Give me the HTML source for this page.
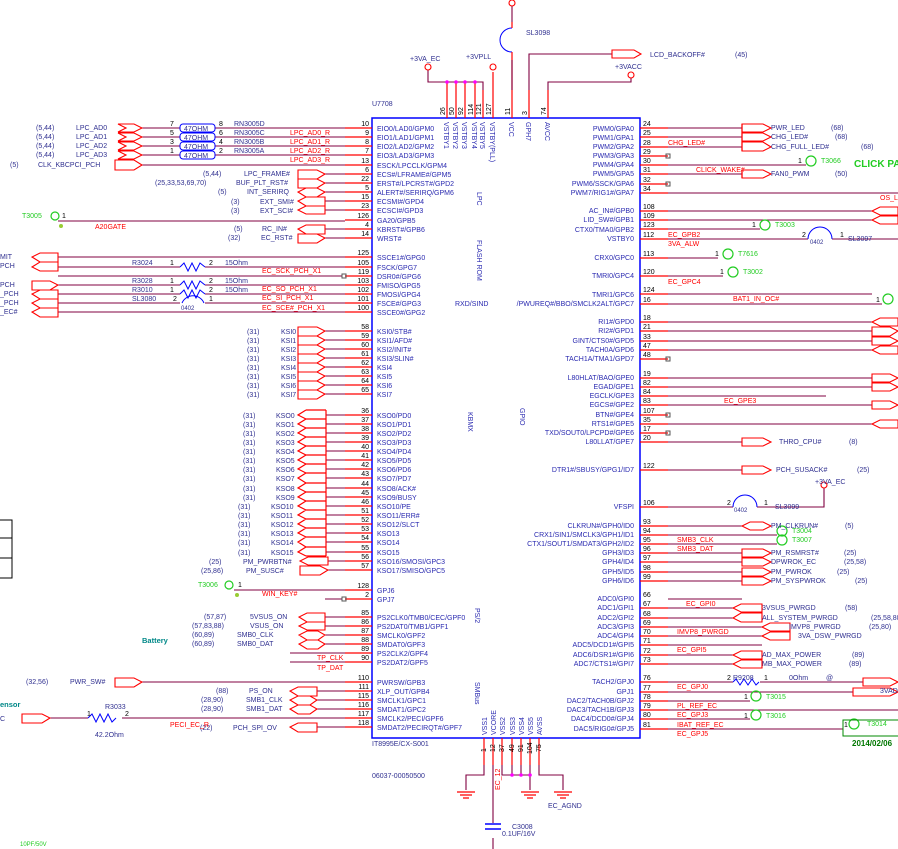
<!DOCTYPE html>
<html><head><meta charset="utf-8"><style>
body{margin:0;background:#fff}
svg{display:block;font-family:"Liberation Sans",sans-serif}
.r{stroke:#f00;stroke-width:1.2;fill:none}
.m{stroke:#800040;stroke-width:1.1;fill:none}
.b{stroke:#00f;fill:none}
.f{stroke:#f00;stroke-width:1.1;fill:#fff}
.pn{font-size:7px;fill:#000}
.pl{font-size:7px;fill:#2a2ab0}
.nl{font-size:7px;fill:#303090}
.rl{font-size:7px;fill:#f00}
.gl{font-size:7px;fill:#2c2}
.tc{stroke:#2c2;fill:none;stroke-width:1.2}
</style></head><body>
<svg width="898" height="849" viewBox="0 0 898 849" xmlns="http://www.w3.org/2000/svg">
<!-- chip -->
<rect x="372" y="118" width="268" height="620" fill="none" stroke="#00f" stroke-width="1.5"/>
<text x="372" y="106" class="nl">U7708</text>
<text x="372" y="746" class="nl">IT8995E/CX-S001</text>
<text x="372" y="778" class="nl">06037-00050500</text>
<text class="pl" transform="translate(477,192) rotate(90)" font-size="8">LPC</text>
<text class="pl" transform="translate(477,240) rotate(90)" font-size="8">FLASH ROM</text>
<text x="455" y="306" class="pl" font-size="6">RXD/SIND</text>
<text class="pl" transform="translate(468,412) rotate(90)">KBMX</text>
<text class="pl" transform="translate(520,408) rotate(90)">GPIO</text>
<text class="pl" transform="translate(475,608) rotate(90)">PS/2</text>
<text class="pl" transform="translate(475,682) rotate(90)">SMBus</text>

<!-- top pins -->
<g class="r"><line x1="447" y1="82" x2="447" y2="118"/><line x1="456" y1="82" x2="456" y2="118"/><line x1="465" y1="82" x2="465" y2="118"/><line x1="475" y1="82" x2="475" y2="118"/><line x1="483" y1="90" x2="483" y2="118"/><line x1="493" y1="72" x2="493" y2="118"/><line x1="512" y1="60" x2="512" y2="118"/><line x1="529" y1="90" x2="529" y2="118"/><line x1="548" y1="90" x2="548" y2="118"/></g>
<path class="m" d="M428,70 V82 H483 V90 M512,0 V22 M512,60 V90 M529,90 V54 H612 M548,90 V82 H631 V78"/>
<g fill="#f0f"><circle cx="447" cy="82" r="1.8"/><circle cx="456" cy="82" r="1.8"/><circle cx="465" cy="82" r="1.8"/><circle cx="475" cy="82" r="1.8"/></g>
<circle cx="428" cy="67" r="3" class="f"/><circle cx="493" cy="67" r="3" class="f"/><circle cx="512" cy="3" r="3" class="f"/><circle cx="631" cy="75" r="3" class="f"/>
<path d="M512,28 A12,12 0 0 0 512,52" class="b"/><line x1="512" y1="22" x2="512" y2="28" class="r"/><line x1="512" y1="52" x2="512" y2="60" class="r"/>
<text x="526" y="35" class="nl">SL3098</text>
<text x="410" y="61" class="nl">+3VA_EC</text><text x="466" y="59" class="nl">+3VPLL</text><text x="615" y="69" class="nl">+3VACC</text>
<polygon class="f" points="612,50 634,50 641,54 634,58 612,58"/>
<text x="650" y="57" class="nl">LCD_BACKOFF#</text><text x="735" y="57" class="nl">(45)</text>
<g class="pn"><text transform="translate(445,115) rotate(-90)">26</text><text transform="translate(454,115) rotate(-90)">50</text><text transform="translate(463,115) rotate(-90)">92</text><text transform="translate(473,115) rotate(-90)">114</text><text transform="translate(481,115) rotate(-90)">121</text><text transform="translate(491,115) rotate(-90)">127</text><text transform="translate(510,115) rotate(-90)">11</text><text transform="translate(527,115) rotate(-90)">3</text><text transform="translate(546,115) rotate(-90)">74</text></g>
<g class="pl" font-size="6"><text transform="translate(444,122) rotate(90)">VSTBY1</text><text transform="translate(453,122) rotate(90)">VSTBY2</text><text transform="translate(462,122) rotate(90)">VSTBY3</text><text transform="translate(472,122) rotate(90)">VSTBY4</text><text transform="translate(480,122) rotate(90)">VSTBY5</text><text transform="translate(490,122) rotate(90)">VSTBY(PLL)</text><text transform="translate(509,122) rotate(90)">VCC</text><text transform="translate(526,122) rotate(90)">GPH7</text><text transform="translate(545,122) rotate(90)">AVCC</text></g>

<!-- bottom pins -->
<g class="r"><line x1="484" y1="738" x2="484" y2="765"/><line x1="493" y1="738" x2="493" y2="765"/><line x1="502" y1="738" x2="502" y2="765"/><line x1="512" y1="738" x2="512" y2="765"/><line x1="521" y1="738" x2="521" y2="765"/><line x1="530" y1="738" x2="530" y2="765"/><line x1="539" y1="738" x2="539" y2="765"/></g>
<path class="m" d="M484,765 V775 H466 V790 M493,765 V823 M493,838 V849 M502,765 V775 H530 M512,765 V775 M521,765 V775 M530,765 V790 M539,765 V775 H563 V790"/>
<g fill="#f0f"><circle cx="512" cy="775" r="1.8"/><circle cx="521" cy="775" r="1.8"/><circle cx="530" cy="775" r="1.8"/></g>
<g class="r"><path d="M457,792 H475 M460,795 H472 M463,798 H469 M521,792 H539 M524,795 H536 M527,798 H533 M554,792 H572 M557,795 H569 M560,798 H566"/></g>
<g class="b" stroke-width="1.5"><line x1="485" y1="824" x2="501" y2="824"/><line x1="485" y1="829" x2="501" y2="829"/></g>
<text x="512" y="829" class="nl">C3008</text><text x="502" y="836" class="nl">0.1UF/16V</text>
<text x="548" y="808" class="nl">EC_AGND</text>
<text class="rl" transform="translate(500,790) rotate(-90)">EC_12</text>
<g class="pn"><text transform="translate(486,752) rotate(-90)">1</text><text transform="translate(495,752) rotate(-90)">12</text><text transform="translate(504,752) rotate(-90)">37</text><text transform="translate(514,752) rotate(-90)">49</text><text transform="translate(523,752) rotate(-90)">91</text><text transform="translate(532,754) rotate(-90)">104</text><text transform="translate(541,752) rotate(-90)">75</text></g>
<g class="pl" font-size="6"><text transform="translate(487,735) rotate(-90)">VSS1</text><text transform="translate(496,735) rotate(-90)">VCORE</text><text transform="translate(505,735) rotate(-90)">VSS2</text><text transform="translate(515,735) rotate(-90)">VSS3</text><text transform="translate(524,735) rotate(-90)">VSS4</text><text transform="translate(533,735) rotate(-90)">VSS5</text><text transform="translate(542,735) rotate(-90)">AVSS</text></g>

<!-- left pins: red stubs -->
<g class="r">
<path d="M345,128H372M345,137H372M345,146H372M345,155H372M345,165H372M345,174H372M345,183H372M345,192H372M345,201H372M345,210H372M345,220H372M345,229H372M345,238H372M345,257H372M345,267H372M345,276H372M345,285H372M345,294H372M345,303H372M345,312H372M345,331H372M345,340H372M345,349H372M345,358H372M345,367H372M345,376H372M345,385H372M345,394H372M345,415H372M345,424H372M345,433H372M345,442H372M345,451H372M345,460H372M345,469H372M345,478H372M345,488H372M345,497H372M345,506H372M345,515H372M345,524H372M345,533H372M345,542H372M345,552H372M345,561H372M345,570H372M345,590H372M345,599H372M345,617H372M345,626H372M345,635H372M345,644H372M345,653H372M345,662H372M345,682H372M345,691H372M345,700H372M345,709H372M345,718H372M345,727H372"/>
</g>
<g class="pn" text-anchor="end">
<text x="369" y="126">10</text><text x="369" y="135">9</text><text x="369" y="144">8</text><text x="369" y="153">7</text><text x="369" y="163">13</text><text x="369" y="172">6</text><text x="369" y="181">22</text><text x="369" y="190">5</text><text x="369" y="199">15</text><text x="369" y="208">23</text><text x="369" y="218">126</text><text x="369" y="227">4</text><text x="369" y="236">14</text><text x="369" y="255">125</text><text x="369" y="265">105</text><text x="369" y="274">119</text><text x="369" y="283">103</text><text x="369" y="292">102</text><text x="369" y="301">101</text><text x="369" y="310">100</text>
<text x="369" y="329">58</text><text x="369" y="338">59</text><text x="369" y="347">60</text><text x="369" y="356">61</text><text x="369" y="365">62</text><text x="369" y="374">63</text><text x="369" y="383">64</text><text x="369" y="392">65</text>
<text x="369" y="413">36</text><text x="369" y="422">37</text><text x="369" y="431">38</text><text x="369" y="440">39</text><text x="369" y="449">40</text><text x="369" y="458">41</text><text x="369" y="467">42</text><text x="369" y="476">43</text><text x="369" y="486">44</text><text x="369" y="495">45</text><text x="369" y="504">46</text><text x="369" y="513">51</text><text x="369" y="522">52</text><text x="369" y="531">53</text><text x="369" y="540">54</text><text x="369" y="550">55</text><text x="369" y="559">56</text><text x="369" y="568">57</text>
<text x="369" y="588">128</text><text x="369" y="597">2</text><text x="369" y="615">85</text><text x="369" y="624">86</text><text x="369" y="633">87</text><text x="369" y="642">88</text><text x="369" y="651">89</text><text x="369" y="660">90</text><text x="369" y="680">110</text><text x="369" y="689">111</text><text x="369" y="698">115</text><text x="369" y="707">116</text><text x="369" y="716">117</text><text x="369" y="725">118</text>
</g>
<g class="pl">
<text x="377" y="131">EIO0/LAD0/GPM0</text><text x="377" y="140">EIO1/LAD1/GPM1</text><text x="377" y="149">EIO2/LAD2/GPM2</text><text x="377" y="158">EIO3/LAD3/GPM3</text><text x="377" y="168">ESCK/LPCCLK/GPM4</text><text x="377" y="177">ECS#/LFRAME#/GPM5</text><text x="377" y="186">ERST#/LPCRST#/GPD2</text><text x="377" y="195">ALERT#/SERIRQ/GPM6</text><text x="377" y="204">ECSMI#/GPD4</text><text x="377" y="213">ECSCI#/GPD3</text><text x="377" y="223">GA20/GPB5</text><text x="377" y="232">KBRST#/GPB6</text><text x="377" y="241">WRST#</text>
<text x="377" y="260">SSCE1#/GPG0</text><text x="377" y="270">FSCK/GPG7</text><text x="377" y="279">DSR0#/GPG6</text><text x="377" y="288">FMISO/GPG5</text><text x="377" y="297">FMOSI/GPG4</text><text x="377" y="306">FSCE#/GPG3</text><text x="377" y="315">SSCE0#/GPG2</text>
<text x="377" y="334">KSI0/STB#</text><text x="377" y="343">KSI1/AFD#</text><text x="377" y="352">KSI2/INIT#</text><text x="377" y="361">KSI3/SLIN#</text><text x="377" y="370">KSI4</text><text x="377" y="379">KSI5</text><text x="377" y="388">KSI6</text><text x="377" y="397">KSI7</text>
<text x="377" y="418">KSO0/PD0</text><text x="377" y="427">KSO1/PD1</text><text x="377" y="436">KSO2/PD2</text><text x="377" y="445">KSO3/PD3</text><text x="377" y="454">KSO4/PD4</text><text x="377" y="463">KSO5/PD5</text><text x="377" y="472">KSO6/PD6</text><text x="377" y="481">KSO7/PD7</text><text x="377" y="491">KSO8/ACK#</text><text x="377" y="500">KSO9/BUSY</text><text x="377" y="509">KSO10/PE</text><text x="377" y="518">KSO11/ERR#</text><text x="377" y="527">KSO12/SLCT</text><text x="377" y="536">KSO13</text><text x="377" y="545">KSO14</text><text x="377" y="555">KSO15</text><text x="377" y="564">KSO16/SMOSI/GPC3</text><text x="377" y="573">KSO17/SMISO/GPC5</text>
<text x="377" y="593">GPJ6</text><text x="377" y="602">GPJ7</text><text x="377" y="620">PS2CLK0/TMB0/CEC/GPF0</text><text x="377" y="629">PS2DAT0/TMB1/GPF1</text><text x="377" y="638">SMCLK0/GPF2</text><text x="377" y="647">SMDAT0/GPF3</text><text x="377" y="656">PS2CLK2/GPF4</text><text x="377" y="665">PS2DAT2/GPF5</text><text x="377" y="685">PWRSW/GPB3</text><text x="377" y="694">XLP_OUT/GPB4</text><text x="377" y="703">SMCLK1/GPC1</text><text x="377" y="712">SMDAT1/GPC2</text><text x="377" y="721">SMCLK2/PECI/GPF6</text><text x="377" y="730">SMDAT2/PECIRQT#/GPF7</text>
</g>

<!-- left external: LPC AD -->
<path class="m" d="M142,128H180M215,128H345M142,137H180M215,137H345M142,146H180M215,146H345M142,155H180M215,155H345M142,165H345M325,174H345M325,183H345M325,192H345M325,201H345M325,210H345M58,221H345M325,229H345M325,238H345M58,257H345M58,267H180M205,267H345M58,276H342M58,285H180M205,285H345M58,294H180M205,294H345M58,303H180M205,303H345M58,312H345"/>
<g class="f">
<polygon points="118,124 134,124 142,128 134,132 118,132 126,128"/><polygon points="118,133 134,133 142,137 134,141 118,141 126,137"/><polygon points="118,142 134,142 142,146 134,150 118,150 126,146"/><polygon points="118,151 134,151 142,155 134,159 118,159 126,155"/>
<polygon points="115,160 134,160 142,165 134,170 115,170"/>
<polygon points="298,170 317,170 325,174 317,179 298,179"/><polygon points="298,179 317,179 325,183 317,188 298,188"/><polygon points="306,188 317,188 325,192 317,197 306,197 298,192"/><polygon points="306,197 325,197 325,206 306,206 298,201"/><polygon points="306,206 325,206 325,214 306,214 298,210"/><polygon points="306,225 325,225 325,234 306,234 298,229"/><polygon points="298,234 317,234 325,238 317,243 298,243"/>
<polygon points="40,253 58,253 58,262 40,262 32,257"/><polygon points="40,262 58,262 58,271 40,271 32,267"/><polygon points="32,281 50,281 58,285 50,290 32,290"/><polygon points="40,290 58,290 58,299 40,299 32,294"/><polygon points="40,299 58,299 58,308 40,308 32,303"/><polygon points="40,308 58,308 58,317 40,317 32,312"/>
</g>
<g fill="none" stroke="#00f"><rect x="180" y="124" width="35" height="8" rx="3"/><rect x="180" y="133" width="35" height="8" rx="3"/><rect x="180" y="142" width="35" height="8" rx="3"/><rect x="180" y="151" width="35" height="8" rx="3"/>
<path d="M180,267 l4,-4 l4,8 l4,-8 l4,8 l4,-8 l5,4 M180,285 l4,-4 l4,8 l4,-8 l4,8 l4,-8 l5,4 M180,294 l4,-4 l4,8 l4,-8 l4,8 l4,-8 l5,4 M182,303 A12,12 0 0 1 204,303"/></g>
<g class="nl" font-size="6.5"><text x="184" y="131">47OHM</text><text x="184" y="140">47OHM</text><text x="184" y="149">47OHM</text><text x="184" y="158">47OHM</text></g>
<g class="pn"><text x="170" y="126">7</text><text x="170" y="135">5</text><text x="170" y="144">3</text><text x="170" y="153">1</text><text x="219" y="126">8</text><text x="219" y="135">6</text><text x="219" y="144">4</text><text x="219" y="153">2</text><text x="170" y="265">1</text><text x="209" y="265">2</text><text x="170" y="283">1</text><text x="209" y="283">2</text><text x="170" y="292">1</text><text x="209" y="292">2</text><text x="173" y="301">2</text><text x="209" y="301">1</text><text x="62" y="218">1</text></g>
<g class="nl">
<text x="234" y="126">RN3005D</text><text x="234" y="135">RN3005C</text><text x="234" y="144">RN3005B</text><text x="234" y="153">RN3005A</text>
<text x="36" y="130">(5,44)</text><text x="76" y="130">LPC_AD0</text><text x="36" y="139">(5,44)</text><text x="76" y="139">LPC_AD1</text><text x="36" y="148">(5,44)</text><text x="76" y="148">LPC_AD2</text><text x="36" y="157">(5,44)</text><text x="76" y="157">LPC_AD3</text><text x="10" y="167">(5)</text><text x="38" y="167">CLK_KBCPCI_PCH</text>
<text x="203" y="176">(5,44)</text><text x="244" y="176">LPC_FRAME#</text><text x="155" y="185">(25,33,53,69,70)</text><text x="236" y="185">BUF_PLT_RST#</text><text x="218" y="194">(5)</text><text x="247" y="194">INT_SERIRQ</text><text x="231" y="204">(3)</text><text x="260" y="204">EXT_SMI#</text><text x="231" y="213">(3)</text><text x="260" y="213">EXT_SCI#</text><text x="234" y="231">(5)</text><text x="262" y="231">RC_IN#</text><text x="228" y="240">(32)</text><text x="261" y="240">EC_RST#</text>
<text x="132" y="265">R3024</text><text x="132" y="283">R3028</text><text x="132" y="292">R3010</text><text x="132" y="301">SL3080</text><text x="225" y="265">15Ohm</text><text x="225" y="283">15Ohm</text><text x="225" y="292">15Ohm</text><text x="181" y="310" font-size="6">0402</text>
<text x="0" y="259">MIT</text><text x="0" y="268">PCH</text><text x="0" y="287">PCH</text><text x="0" y="296">_PCH</text><text x="0" y="305">_PCH</text><text x="0" y="314">_EC#</text>
</g>
<g class="rl"><text x="290" y="135">LPC_AD0_R</text><text x="290" y="144">LPC_AD1_R</text><text x="290" y="153">LPC_AD2_R</text><text x="290" y="162">LPC_AD3_R</text><text x="95" y="229">A20GATE</text><text x="262" y="273">EC_SCK_PCH_X1</text><text x="262" y="291">EC_SO_PCH_X1</text><text x="262" y="300">EC_SI_PCH_X1</text><text x="262" y="310">EC_SCE#_PCH_X1</text></g>
<circle cx="55" cy="216" r="4" class="tc"/><text x="22" y="218" class="gl">T3005</text><circle cx="61" cy="226" r="2" fill="#9c3" />
<rect x="342" y="274" width="4" height="4" fill="none" stroke="#555"/>

<!-- KSI / KSO -->
<path class="m" d="M325,331H345M325,340H345M325,349H345M325,358H345M325,367H345M325,376H345M325,385H345M325,394H345M326,415H345M326,424H345M326,433H345M326,442H345M326,451H345M326,460H345M326,469H345M326,478H345M326,488H345M326,497H345M326,506H345M326,515H345M326,524H345M326,533H345M326,542H345M326,552H345M328,561H345M328,570H345"/>
<g class="f">
<polygon points="298,327 317,327 325,331 317,336 298,336"/><polygon points="298,336 317,336 325,340 317,345 298,345"/><polygon points="298,345 317,345 325,349 317,354 298,354"/><polygon points="298,354 317,354 325,358 317,363 298,363"/><polygon points="298,363 317,363 325,367 317,372 298,372"/><polygon points="298,372 317,372 325,376 317,381 298,381"/><polygon points="298,381 317,381 325,385 317,390 298,390"/><polygon points="298,390 317,390 325,394 317,399 298,399"/>
</g>
<path class="r" d="M326,410V556 M306,410H326 M306,419H326 M306,428H326 M306,437H326 M306,446H326 M306,455H326 M306,464H326 M306,473H326 M306,483H326 M306,492H326 M306,501H326 M306,510H326 M306,519H326 M306,528H326 M306,537H326 M306,547H326 M306,556H326 M306,410L298,415L306,419 M306,419L298,424L306,428 M306,428L298,433L306,437 M306,437L298,442L306,446 M306,446L298,451L306,455 M306,455L298,460L306,464 M306,464L298,469L306,473 M306,473L298,478L306,483 M306,483L298,488L306,492 M306,492L298,497L306,501 M306,501L298,506L306,510 M306,510L298,515L306,519 M306,519L298,524L306,528 M306,528L298,533L306,537 M306,537L298,542L306,547 M306,547L298,552L306,556"/>
<polygon class="f" points="308,557 328,557 328,565 308,565 300,561"/><polygon class="f" points="300,566 320,566 328,570 320,575 300,575"/>
<g class="nl">
<text x="247" y="334">(31)</text><text x="281" y="334">KSI0</text><text x="247" y="343">(31)</text><text x="281" y="343">KSI1</text><text x="247" y="352">(31)</text><text x="281" y="352">KSI2</text><text x="247" y="361">(31)</text><text x="281" y="361">KSI3</text><text x="247" y="370">(31)</text><text x="281" y="370">KSI4</text><text x="247" y="379">(31)</text><text x="281" y="379">KSI5</text><text x="247" y="388">(31)</text><text x="281" y="388">KSI6</text><text x="247" y="397">(31)</text><text x="281" y="397">KSI7</text>
<text x="243" y="418">(31)</text><text x="276" y="418">KSO0</text><text x="243" y="427">(31)</text><text x="276" y="427">KSO1</text><text x="243" y="436">(31)</text><text x="276" y="436">KSO2</text><text x="243" y="445">(31)</text><text x="276" y="445">KSO3</text><text x="243" y="454">(31)</text><text x="276" y="454">KSO4</text><text x="243" y="463">(31)</text><text x="276" y="463">KSO5</text><text x="243" y="472">(31)</text><text x="276" y="472">KSO6</text><text x="243" y="481">(31)</text><text x="276" y="481">KSO7</text><text x="243" y="491">(31)</text><text x="276" y="491">KSO8</text><text x="243" y="500">(31)</text><text x="276" y="500">KSO9</text>
<text x="238" y="509">(31)</text><text x="271" y="509">KSO10</text><text x="238" y="518">(31)</text><text x="271" y="518">KSO11</text><text x="238" y="527">(31)</text><text x="271" y="527">KSO12</text><text x="238" y="536">(31)</text><text x="271" y="536">KSO13</text><text x="238" y="545">(31)</text><text x="271" y="545">KSO14</text><text x="238" y="555">(31)</text><text x="271" y="555">KSO15</text>
<text x="209" y="564">(25)</text><text x="243" y="564">PM_PWRBTN#</text><text x="201" y="573">(25,86)</text><text x="246" y="573">PM_SUSC#</text>
</g>
<path d="M0,520H12V538H0M0,538H12V558H0M0,558H12V578H0" fill="none" stroke="#000"/>

<!-- GPJ6/PS2/SMB -->
<path class="m" d="M234,590H345M325,599H342M325,617H345M325,626H345M325,635H345M325,644H345M290,653H345M290,662H345M142,682H345M317,691H345M317,700H345M317,709H345M50,718H88M122,718H345M317,727H345"/>
<circle cx="229" cy="585" r="4" class="tc"/><text x="198" y="587" class="gl">T3006</text><circle cx="237" cy="595" r="2" fill="#9c3"/><text x="238" y="587" class="pn">1</text>
<rect x="342" y="597" width="4" height="4" fill="none" stroke="#555"/>
<g class="f">
<polygon points="307,613 325,613 325,622 307,622 299,617"/><polygon points="307,622 325,622 325,630 307,630 299,626"/><polygon points="307,631 318,631 325,635 318,640 307,640 299,635"/><polygon points="307,640 318,640 325,644 318,649 307,649 299,644"/>
<polygon points="115,678 134,678 142,682 134,687 115,687"/>
<polygon points="298,687 317,687 317,696 298,696 290,691"/><polygon points="298,696 310,696 317,700 310,705 298,705 290,700"/><polygon points="298,705 310,705 317,709 310,714 298,714 290,709"/><polygon points="298,723 317,723 317,732 298,732 290,727"/>
<polygon points="22,714 42,714 50,718 42,723 22,723"/>
</g>
<path d="M88,718 l4,-4 l4,8 l4,-8 l4,8 l4,-8 l4,8 l4,-4" class="b"/>
<g class="nl">
<text x="204" y="619">(57,87)</text><text x="250" y="619">5VSUS_ON</text><text x="192" y="628">(57,83,88)</text><text x="250" y="628">VSUS_ON</text><text x="192" y="637">(60,89)</text><text x="237" y="637">SMB0_CLK</text><text x="192" y="646">(60,89)</text><text x="237" y="646">SMB0_DAT</text>
<text x="26" y="684">(32,56)</text><text x="70" y="684">PWR_SW#</text><text x="216" y="693">(88)</text><text x="249" y="693">PS_ON</text><text x="201" y="702">(28,90)</text><text x="246" y="702">SMB1_CLK</text><text x="201" y="711">(28,90)</text><text x="246" y="711">SMB1_DAT</text><text x="200" y="730">(22)</text><text x="233" y="730">PCH_SPI_OV</text>
<text x="105" y="709">R3033</text><text x="95" y="737">42.2Ohm</text>
</g>
<text x="142" y="643" font-size="7.5" font-weight="bold" fill="#088">Battery</text>
<text x="0" y="707" font-size="7.5" font-weight="bold" fill="#088">ensor</text><text x="0" y="721" class="nl">C</text>
<g class="pn"><text x="87" y="716">1</text><text x="125" y="716">2</text></g>
<g class="rl"><text x="262" y="596">WIN_KEY#</text><text x="317" y="660">TP_CLK</text><text x="317" y="670">TP_DAT</text><text x="170" y="727">PECI_EC_R</text></g>
<text x="20" y="846" font-size="6" fill="#2c2">10PF/50V</text>

<!-- right pins -->
<g class="r">
<path d="M640,128H668M640,137H668M640,147H668M640,156H668M640,165H668M640,174H668M640,184H668M640,193H668M640,211H668M640,220H668M640,229H668M640,239H668M640,258H668M640,276H668M640,294H668M640,304H668M640,322H668M640,331H668M640,341H668M640,350H668M640,359H668M640,378H668M640,387H668M640,396H668M640,405H668M640,415H668M640,424H668M640,433H668M640,442H668M640,470H668M640,507H668M640,526H668M640,535H668M640,544H668M640,553H668M640,562H668M640,572H668M640,581H668M640,608H668M640,618H668M640,627H668M640,636H668M640,645H668M640,655H668M640,664H668M640,682H668M640,692H668M640,701H668M640,710H668M640,719H668M640,729H668"/>
</g>
<g class="pn">
<text x="643" y="126">24</text><text x="643" y="135">25</text><text x="643" y="145">28</text><text x="643" y="154">29</text><text x="643" y="163">30</text><text x="643" y="172">31</text><text x="643" y="182">32</text><text x="643" y="191">34</text><text x="643" y="209">108</text><text x="643" y="218">109</text><text x="643" y="227">123</text><text x="643" y="237">112</text><text x="643" y="256">113</text><text x="643" y="274">120</text><text x="643" y="292">124</text><text x="643" y="302">16</text>
<text x="643" y="320">18</text><text x="643" y="329">21</text><text x="643" y="339">33</text><text x="643" y="348">47</text><text x="643" y="357">48</text><text x="643" y="376">19</text><text x="643" y="385">82</text><text x="643" y="394">84</text><text x="643" y="403">83</text><text x="643" y="413">107</text><text x="643" y="422">35</text><text x="643" y="431">17</text><text x="643" y="440">20</text><text x="643" y="468">122</text><text x="643" y="505">106</text>
<text x="643" y="524">93</text><text x="643" y="533">94</text><text x="643" y="542">95</text><text x="643" y="551">96</text><text x="643" y="560">97</text><text x="643" y="570">98</text><text x="643" y="579">99</text><text x="643" y="597">66</text><text x="643" y="606">67</text><text x="643" y="616">68</text><text x="643" y="625">69</text><text x="643" y="634">70</text><text x="643" y="643">71</text><text x="643" y="653">72</text><text x="643" y="662">73</text><text x="643" y="680">76</text><text x="643" y="690">77</text><text x="643" y="699">78</text><text x="643" y="708">79</text><text x="643" y="717">80</text><text x="643" y="727">81</text>
</g>
<g class="pl" text-anchor="end">
<text x="634" y="131">PWM0/GPA0</text><text x="634" y="140">PWM1/GPA1</text><text x="634" y="149">PWM2/GPA2</text><text x="634" y="158">PWM3/GPA3</text><text x="634" y="167">PWM4/GPA4</text><text x="634" y="176">PWM5/GPA5</text><text x="634" y="186">PWM6/SSCK/GPA6</text><text x="634" y="195">PWM7/RIG1#/GPA7</text>
<text x="634" y="213">AC_IN#/GPB0</text><text x="634" y="222">LID_SW#/GPB1</text><text x="634" y="232">CTX0/TMA0/GPB2</text><text x="634" y="241">VSTBY0</text><text x="634" y="260">CRX0/GPC0</text><text x="634" y="278">TMRI0/GPC4</text><text x="634" y="297">TMRI1/GPC6</text><text x="634" y="306">/PWUREQ#/BBO/SMCLK2ALT/GPC7</text>
<text x="634" y="324">RI1#/GPD0</text><text x="634" y="333">RI2#/GPD1</text><text x="634" y="343">GINT/CTS0#/GPD5</text><text x="634" y="352">TACH0A/GPD6</text><text x="634" y="361">TACH1A/TMA1/GPD7</text>
<text x="634" y="380">L80HLAT/BAO/GPE0</text><text x="634" y="389">EGAD/GPE1</text><text x="634" y="398">EGCLK/GPE3</text><text x="634" y="407">EGCS#/GPE2</text><text x="634" y="417">BTN#/GPE4</text><text x="634" y="426">RTS1#/GPE5</text><text x="634" y="435">TXD/SOUT0/LPCPD#/GPE6</text><text x="634" y="444">L80LLAT/GPE7</text>
<text x="634" y="472">DTR1#/SBUSY/GPG1/ID7</text><text x="634" y="509">VFSPI</text>
<text x="634" y="528">CLKRUN#/GPH0/ID0</text><text x="634" y="537">CRX1/SIN1/SMCLK3/GPH1/ID1</text><text x="634" y="546">CTX1/SOUT1/SMDAT3/GPH2/ID2</text><text x="634" y="555">GPH3/ID3</text><text x="634" y="564">GPH4/ID4</text><text x="634" y="574">GPH5/ID5</text><text x="634" y="583">GPH6/ID6</text>
<text x="634" y="601">ADC0/GPI0</text><text x="634" y="610">ADC1/GPI1</text><text x="634" y="620">ADC2/GPI2</text><text x="634" y="629">ADC3/GPI3</text><text x="634" y="638">ADC4/GPI4</text><text x="634" y="647">ADC5/DCD1#/GPI5</text><text x="634" y="657">ADC6/DSR1#/GPI6</text><text x="634" y="666">ADC7/CTS1#/GPI7</text>
<text x="634" y="684">TACH2/GPJ0</text><text x="634" y="694">GPJ1</text><text x="634" y="703">DAC2/TACH0B/GPJ2</text><text x="634" y="712">DAC3/TACH1B/GPJ3</text><text x="634" y="721">DAC4/DCD0#/GPJ4</text><text x="634" y="731">DAC5/RIG0#/GPJ5</text>
</g>
<rect x="666" y="154" width="4" height="4" fill="none" stroke="#555"/><rect x="666" y="182" width="4" height="4" fill="none" stroke="#555"/><rect x="666" y="357" width="4" height="4" fill="none" stroke="#555"/><rect x="666" y="413" width="4" height="4" fill="none" stroke="#555"/><rect x="666" y="431" width="4" height="4" fill="none" stroke="#555"/>

<!-- right wires -->
<path class="m" d="M668,128H742M668,137H742M668,147H742M668,165H806M668,174H742M668,193H898M668,211H872M668,220H872M668,229H760M668,239H808M832,239H898M668,258H718M668,276H723M668,294H872M668,304H882M668,322H872M668,331H872M668,341H872M668,350H872M668,378H872M668,387H872M668,396H826M668,405H872M668,424H872M668,442H742M668,470H742M668,507H733M757,507H824V488M668,526H742M668,535H777M668,544H777M668,553H742M668,562H742M668,572H742M668,581H742M668,599H742M668,608H733M668,618H733M668,627H762M668,636H762M668,645H762M668,655H733M668,664H733M668,682H733M760,682H863M668,692H853M668,701H750M668,710H898M668,719H750M668,729H843"/>
<g class="f">
<polygon points="742,124 763,124 771,128 763,132 742,132"/><polygon points="742,133 763,133 771,137 763,141 742,141"/><polygon points="742,142 763,142 771,147 763,151 742,151"/><polygon points="742,170 763,170 771,174 763,178 742,178"/>
<polygon points="880,207 898,207 898,215 880,215 872,211"/><polygon points="880,216 898,216 898,224 880,224 872,220"/>
<polygon points="880,318 898,318 898,326 880,326 872,322"/><polygon points="872,327 890,327 898,331 890,336 872,336"/><polygon points="872,337 890,337 898,341 890,345 872,345"/><polygon points="880,346 898,346 898,354 880,354 872,350"/>
<polygon points="872,374 890,374 898,378 890,382 872,382"/><polygon points="872,383 890,383 898,387 890,391 872,391"/><polygon points="872,401 890,401 898,405 890,409 872,409"/><polygon points="880,420 898,420 898,428 880,428 872,424"/>
<polygon points="742,438 763,438 771,442 763,446 742,446"/><polygon points="742,466 763,466 771,470 763,474 742,474"/>
<polygon points="750,522 763,522 771,526 763,530 750,530 742,526"/>
<polygon points="742,549 763,549 771,553 763,557 742,557"/><polygon points="742,558 763,558 771,562 763,566 742,566"/><polygon points="742,568 763,568 771,572 763,576 742,576"/><polygon points="742,577 763,577 771,581 763,585 742,585"/>
<polygon points="741,604 762,604 762,612 741,612 733,608"/><polygon points="741,613 762,613 762,622 741,622 733,618"/><polygon points="770,623 790,623 790,631 770,631 762,627"/><polygon points="770,632 790,632 790,640 770,640 762,636"/>
<polygon points="741,651 762,651 762,659 741,659 733,655"/><polygon points="741,660 762,660 762,668 741,668 733,664"/>
<polygon points="863,678 890,678 898,682 890,686 863,686"/><polygon points="853,688 890,688 898,692 890,696 853,696"/>
</g>
<path d="M742,124V151 M742,170V178" class="r"/>
<path d="M808,239 A12,12 0 0 1 832,239 M733,507 A12,12 0 0 1 757,507" class="b"/>
<path d="M733,682 l3,-3 l4,6 l4,-6 l4,6 l4,-6 l4,6 l3,-3" class="b"/>
<circle cx="824" cy="485" r="3" class="f"/>
<g class="tc"><circle cx="811" cy="161" r="5"/><circle cx="765" cy="225" r="5"/><circle cx="728" cy="254" r="5"/><circle cx="733" cy="272" r="5"/><circle cx="888" cy="299" r="5"/><circle cx="782" cy="531" r="5"/><circle cx="782" cy="540" r="5"/><circle cx="756" cy="696" r="5"/><circle cx="756" cy="715" r="5"/><circle cx="854" cy="724" r="5"/></g>
<rect x="843" y="720" width="60" height="16" fill="none" stroke="#080"/>
<g class="pn"><text x="798" y="163">1</text><text x="752" y="227">1</text><text x="715" y="256">1</text><text x="720" y="274">1</text><text x="876" y="302">1</text><text x="802" y="237">2</text><text x="840" y="237">1</text><text x="727" y="505">2</text><text x="764" y="505">1</text><text x="727" y="680">2</text><text x="764" y="680">1</text><text x="744" y="699">1</text><text x="744" y="718">1</text><text x="844" y="727">1</text></g>
<g class="gl"><text x="821" y="163">T3066</text><text x="775" y="227">T3003</text><text x="738" y="256">T7616</text><text x="743" y="274">T3002</text><text x="792" y="533">T3004</text><text x="792" y="542">T3007</text><text x="766" y="699">T3015</text><text x="766" y="718">T3016</text><text x="867" y="726">T3014</text></g>
<text x="854" y="167" font-size="10" font-weight="bold" fill="#2c2">CLICK PA</text>
<text x="852" y="746" font-size="8" font-weight="bold" fill="#070">2014/02/06</text>
<g class="nl">
<text x="771" y="130">PWR_LED</text><text x="831" y="130">(68)</text><text x="771" y="139">CHG_LED#</text><text x="835" y="139">(68)</text><text x="771" y="149">CHG_FULL_LED#</text><text x="861" y="149">(68)</text><text x="771" y="176">FAN0_PWM</text><text x="835" y="176">(50)</text>
<text x="848" y="241">SL3097</text><text x="810" y="244" font-size="6">0402</text><text x="734" y="512" font-size="6">0402</text>
<text x="779" y="444">THRO_CPU#</text><text x="849" y="444">(8)</text><text x="776" y="472">PCH_SUSACK#</text><text x="857" y="472">(25)</text><text x="815" y="484">+3VA_EC</text><text x="775" y="509">SL3099</text>
<text x="771" y="528">PM_CLKRUN#</text><text x="845" y="528">(5)</text>
<text x="771" y="555">PM_RSMRST#</text><text x="844" y="555">(25)</text><text x="771" y="564">DPWROK_EC</text><text x="844" y="564">(25,58)</text><text x="771" y="574">PM_PWROK</text><text x="837" y="574">(25)</text><text x="771" y="583">PM_SYSPWROK</text><text x="855" y="583">(25)</text>
<text x="762" y="610">3VSUS_PWRGD</text><text x="845" y="610">(58)</text><text x="762" y="620">ALL_SYSTEM_PWRGD</text><text x="871" y="620">(25,58,80</text><text x="789" y="629">IMVP8_PWRGD</text><text x="869" y="629">(25,80)</text><text x="798" y="638">3VA_DSW_PWRGD</text>
<text x="762" y="657">AD_MAX_POWER</text><text x="852" y="657">(89)</text><text x="762" y="666">MB_MAX_POWER</text><text x="849" y="666">(89)</text>
<text x="733" y="680">R9208</text><text x="789" y="680">0Ohm</text><text x="826" y="680">@</text><text x="880" y="693">3VAD</text>
</g>
<g class="rl"><text x="668" y="145">CHG_LED#</text><text x="696" y="172">CLICK_WAKE#</text><text x="880" y="200">OS_L</text><text x="668" y="237">EC_GPB2</text><text x="668" y="246">3VA_ALW</text><text x="668" y="284">EC_GPC4</text><text x="733" y="301">BAT1_IN_OC#</text><text x="724" y="403">EC_GPE3</text>
<text x="677" y="542">SMB3_CLK</text><text x="677" y="551">SMB3_DAT</text><text x="686" y="606">EC_GPI0</text><text x="677" y="634">IMVP8_PWRGD</text><text x="677" y="652">EC_GPI5</text><text x="677" y="689">EC_GPJ0</text><text x="677" y="708">PL_REF_EC</text><text x="677" y="717">EC_GPJ3</text><text x="677" y="727">IBAT_REF_EC</text><text x="677" y="736">EC_GPJ5</text></g>
</svg>
</body></html>
